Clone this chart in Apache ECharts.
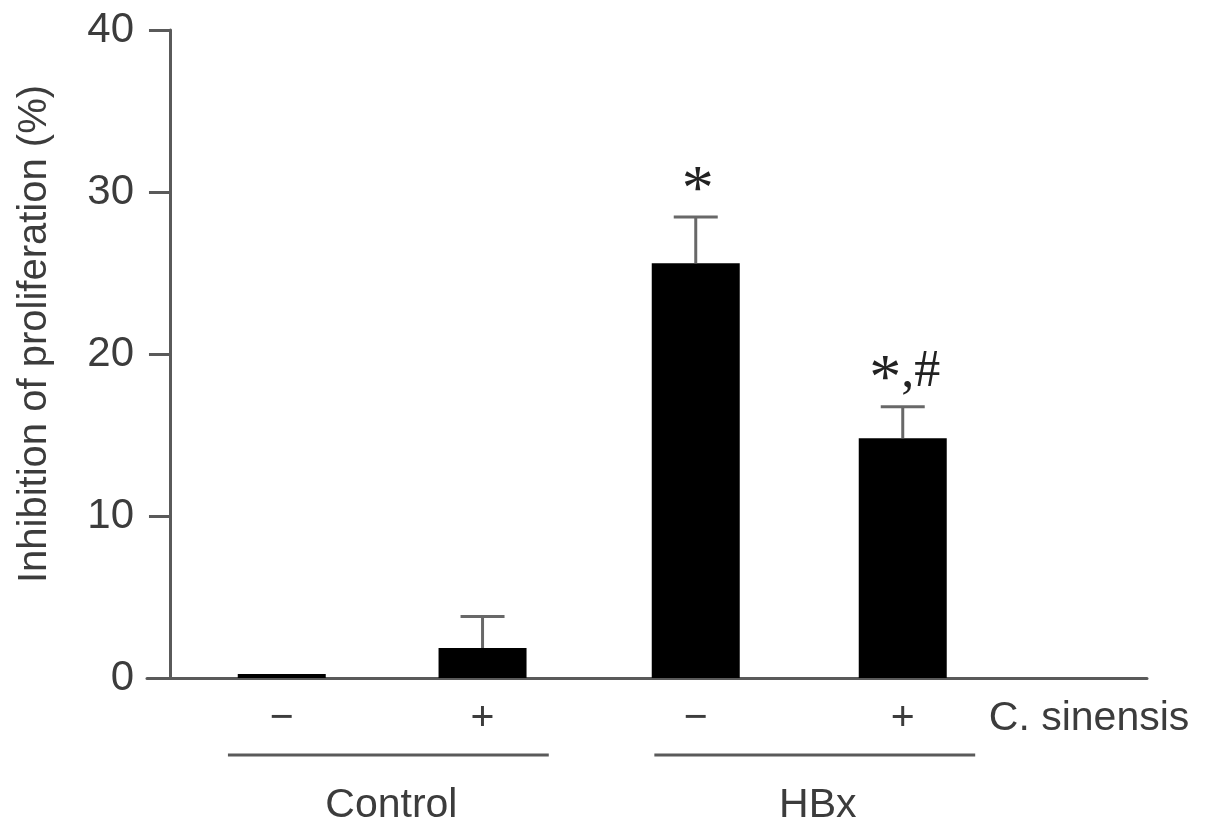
<!DOCTYPE html>
<html>
<head>
<meta charset="utf-8">
<script src="https://cdn.jsdelivr.net/npm/echarts@6/dist/echarts.min.js"></script>
<style>
html,body{margin:0;padding:0;background:#fff;}
#chart{width:1205px;height:837px;}
</style>
</head>
<body>
<div id="chart"></div>
<script>
// ---- data ----
const positions = [0.54, 1.51, 2.54, 3.54];          // bar slots along the treatment axis
const treatmentLabels = ['−', '+', '−', '+'];
const means = [0.25, 1.85, 25.6, 14.8];
const errors = [0, 1.95, 2.85, 1.95];
const annotations = ['', '', '*', '*,#'];
const rowLabel = 'C. sinensis';
const rowLabelPos = 4.44;
const groupNames = ['Control', 'HBx'];
const groupStart = [0.28, 2.34];
const groupEnd = [1.83, 3.89];
const yMin = 0, yMax = 40, yInterval = 10;
const yTitle = 'Inhibition of proliferation (%)';

const axisColor = '#5a5a5a';
const textColor = '#3c3c3c';
const sans = 'Liberation Sans, Arial, sans-serif';
const serif = 'Liberation Serif, Times New Roman, serif';
const BAR_WIDTH = 88;

const labelValues = positions.concat([rowLabelPos]);
const labelTexts = treatmentLabels.concat([rowLabel]);

const chart = echarts.init(document.getElementById('chart'), null, {renderer: 'canvas'});

function parseAnn(a) {
  // star gets a larger glyph, the rest normal
  return a.replace(/\*/g, '{s|*}').replace(/([,#]+)/g, '{n|$1}');
}

const option = {
  animation: false,
  backgroundColor: '#fff',
  grid: {left: 147, right: 58, top: 30, bottom: 159, containLabel: false, outerBoundsMode: 'none'},
  xAxis: {
    type: 'value',
    min: -0.111,
    max: 4.72,
    axisLine: {show: true, onZero: true, lineStyle: {color: axisColor, width: 3}},
    axisTick: {show: false},
    splitLine: {show: false},
    axisLabel: {
      show: true,
      customValues: labelValues,
      margin: 20,
      color: textColor,
      fontFamily: sans,
      fontSize: 41,
      formatter: function (v) {
        for (let i = 0; i < labelValues.length; i++) {
          if (Math.abs(labelValues[i] - v) < 1e-6) return labelTexts[i];
        }
        return '';
      }
    }
  },
  yAxis: {
    type: 'value',
    min: yMin,
    max: yMax,
    interval: yInterval,
    name: yTitle,
    nameLocation: 'middle',
    nameGap: 92,
    nameMoveOverlap: false,
    nameTextStyle: {color: textColor, fontFamily: sans, fontSize: 40, padding: [0, 0, 0, 40]},
    axisLine: {show: true, onZero: true, lineStyle: {color: axisColor, width: 3}},
    axisTick: {show: true, inside: false, length: 21, lineStyle: {color: axisColor, width: 3}},
    splitLine: {show: false},
    axisLabel: {color: textColor, fontFamily: sans, fontSize: 42, margin: 13}
  },
  series: [
    {
      type: 'custom',
      z: 2,
      data: positions.map((p, i) => [p, means[i]]),
      encode: {x: 0, y: 1},
      renderItem: function (params, api) {
        const x = api.value(0), m = api.value(1);
        const top = api.coord([x, m]);
        const base = api.coord([x, 0]);
        return {
          type: 'rect',
          shape: {x: top[0] - BAR_WIDTH / 2, y: top[1], width: BAR_WIDTH, height: base[1] - top[1]},
          style: {fill: '#000'}
        };
      }
    },
    {
      type: 'custom',
      z: 3,
      data: positions.map((p, i) => [p, means[i], errors[i], i]),
      encode: {x: 0, y: 1},
      renderItem: function (params, api) {
        const x = api.value(0), m = api.value(1), e = api.value(2), idx = api.value(3);
        const base = api.coord([x, m]);
        const top = api.coord([x, m + e]);
        const children = [];
        const st = {stroke: '#686868', lineWidth: 3};
        if (e > 0) {
          children.push({type: 'line', shape: {x1: base[0], y1: base[1], x2: top[0], y2: top[1]}, style: st});
          children.push({type: 'line', shape: {x1: top[0] - 22, y1: top[1], x2: top[0] + 22, y2: top[1]}, style: st});
        }
        const ann = annotations[idx];
        if (ann) {
          children.push({
            type: 'text',
            x: top[0] + 2, y: top[1] - 34,
            style: {
              text: parseAnn(ann),
              fill: '#222',
              align: 'center',
              verticalAlign: 'middle',
              rich: {
                s: {fontFamily: serif, fontSize: 64, fill: '#222', verticalAlign: 'middle', padding: [18, 0, 0, 0]},
                n: {fontFamily: serif, fontSize: 52, fill: '#222', verticalAlign: 'middle'}
              }
            }
          });
        }
        return {type: 'group', children: children};
      }
    },
    {
      type: 'custom',
      z: 3,
      data: groupNames.map((g, i) => [groupStart[i], 0, groupEnd[i], i]),
      encode: {x: 0, y: 1},
      renderItem: function (params, api) {
        const s = api.value(0), e = api.value(2), idx = api.value(3);
        const p1 = api.coord([s, 0]);
        const p2 = api.coord([e, 0]);
        const y = p1[1] + 77;
        return {
          type: 'group',
          children: [
            {type: 'line', shape: {x1: p1[0], y1: y, x2: p2[0], y2: y}, style: {stroke: axisColor, lineWidth: 3}},
            {type: 'text', x: (p1[0] + p2[0]) / 2 + 3, y: y + 51,
             style: {text: groupNames[idx], fill: textColor, font: '41px ' + sans, align: 'center', verticalAlign: 'middle'}}
          ]
        };
      }
    }
  ]
};
chart.setOption(option);
</script>
</body>
</html>
